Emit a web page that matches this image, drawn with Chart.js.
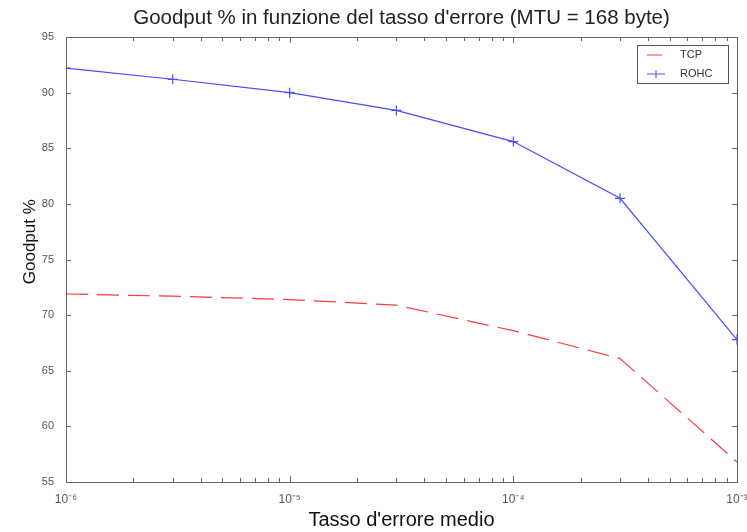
<!DOCTYPE html>
<html>
<head>
<meta charset="utf-8">
<script src="https://cdn.jsdelivr.net/npm/chart.js@4.4.1/dist/chart.umd.min.js"></script>
<style>
    body { margin: 0; background: #fff; }
    #wrap { width: 747px; height: 532px; position: relative; }
</style>
</head>
<body>
<div id="wrap"><canvas id="goodputChart"></canvas></div>
<script>
// Tasso d'errore (asse log) e goodput misurato per i due protocolli
const errorRates = [1e-6, 3e-6, 1e-5, 3e-5, 1e-4, 3e-4, 1e-3];
const tcpGoodput = [71.9, 71.7, 71.4, 70.9, 68.6, 66.1, 56.8];
const rohcGoodput = [92.2, 91.2, 90.0, 88.4, 85.6, 80.5, 67.8];
const seriesNames = ['TCP', 'ROHC'];
const seriesColors = ['#ff3a3a', '#4a4aff'];
const decades = [-6, -5, -4, -3];
const yMin = 55, yMax = 95, yStep = 5;
const chartTitle = "Goodput % in funzione del tasso d'errore (MTU = 168 byte)";
const yTitle = 'Goodput %';

const FONT = '"Liberation Sans", Arial, sans-serif';
const SUP = { '-': '\u207B', '0': '\u2070', '1': '\u00B9', '2': '\u00B2', '3': '\u00B3',
              '4': '\u2074', '5': '\u2075', '6': '\u2076', '7': '\u2077', '8': '\u2078', '9': '\u2079' };

function powLabel(exp) {
    return '10' + String(exp).split('').map(c => SUP[c]).join('');
}

// tacche log: 1..9 x 10^k per ogni decade, piu' l'ultima potenza
function logTicks() {
    const out = [];
    for (let i = 0; i < decades.length - 1; i++) {
        for (let m = 1; m <= 9; m++) out.push({ value: m * Math.pow(10, decades[i]), major: m === 1 });
    }
    out.push({ value: Math.pow(10, decades[decades.length - 1]), major: true });
    return out;
}

// cornice e tacche verso l'interno, stile matlab
const frameTicks = {
    id: 'frameTicks',
    afterDatasetsDraw(chart) {
        const { ctx, chartArea: a, scales } = chart;
        ctx.save();
        ctx.strokeStyle = '#666';
        ctx.lineWidth = 1;
        ctx.strokeRect(Math.round(a.left) + 0.5, Math.round(a.top) + 0.5,
                       Math.round(a.right - a.left), Math.round(a.bottom - a.top));
        ctx.beginPath();
        scales.x.ticks.forEach(t => {
            const x = Math.round(scales.x.getPixelForValue(t.value)) + 0.5;
            const len = t.major ? 6 : 4;
            ctx.moveTo(x, a.bottom); ctx.lineTo(x, a.bottom - len);
            ctx.moveTo(x, a.top); ctx.lineTo(x, a.top + len);
        });
        scales.y.ticks.forEach(t => {
            const y = Math.round(scales.y.getPixelForValue(t.value)) + 0.5;
            ctx.moveTo(a.left, y); ctx.lineTo(a.left + 5, y);
            ctx.moveTo(a.right, y); ctx.lineTo(a.right - 5, y);
        });
        ctx.stroke();
        ctx.restore();
    },
    afterDraw(chart) {
        const { ctx, chartArea: a } = chart;
        const cx = (a.left + a.right) / 2;

        // titolo centrato sugli assi, non sulla figura
        ctx.save();
        ctx.font = '20.5px ' + FONT;
        ctx.fillStyle = '#222';
        ctx.textAlign = 'center';
        ctx.textBaseline = 'middle';
        ctx.fillText(chartTitle, cx, 18);
        ctx.restore();

        // etichetta asse y, un po' sopra il centro come in matlab
        ctx.save();
        ctx.translate(30, a.top + (a.bottom - a.top) * 0.46);
        ctx.rotate(-Math.PI / 2);
        ctx.font = '17px ' + FONT;
        ctx.fillStyle = '#111';
        ctx.textAlign = 'center';
        ctx.textBaseline = 'middle';
        ctx.fillText(yTitle, 0, 0);
        ctx.restore();

        // legenda in alto a destra dentro il grafico
        const bx = a.right - 100, by = a.top + 8, bw = 91, bh = 38;
        ctx.save();
        ctx.fillStyle = '#fff';
        ctx.fillRect(bx, by, bw, bh);
        ctx.strokeStyle = '#555';
        ctx.lineWidth = 1;
        ctx.strokeRect(bx + 0.5, by + 0.5, bw, bh);
        ctx.font = '11px ' + FONT;
        ctx.textBaseline = 'middle';
        seriesNames.forEach((name, i) => {
            const y = by + 10 + i * 19;
            ctx.strokeStyle = seriesColors[i];
            ctx.beginPath();
            ctx.moveTo(bx + 10, y); ctx.lineTo(bx + (i === 0 ? 25 : 28), y);
            if (i === 1) { ctx.moveTo(bx + 19, y - 4); ctx.lineTo(bx + 19, y + 4); }
            ctx.stroke();
            ctx.fillStyle = '#333';
            ctx.fillText(name, bx + 43, y);
        });
        ctx.restore();
    }
};

const ctx = document.getElementById('goodputChart').getContext('2d');
new Chart(ctx, {
    type: 'line',
    data: {
        datasets: [
            {
                label: seriesNames[0],
                data: errorRates.map((x, i) => ({ x: x, y: tcpGoodput[i] })),
                borderColor: seriesColors[0],
                borderWidth: 1.2,
                borderDash: [22, 9],
                pointRadius: 0,
                tension: 0
            },
            {
                label: seriesNames[1],
                data: errorRates.map((x, i) => ({ x: x, y: rohcGoodput[i] })),
                borderColor: seriesColors[1],
                backgroundColor: seriesColors[1],
                borderWidth: 1.2,
                pointStyle: 'cross',
                pointRadius: 5,
                pointBorderWidth: 1.2,
                tension: 0
            }
        ]
    },
    options: {
        responsive: true,
        maintainAspectRatio: false,
        animation: false,
        layout: { padding: { top: 37, right: 10, bottom: 0 } },
        plugins: {
            legend: { display: false },
            tooltip: { enabled: false },
            title: { display: false }
        },
        scales: {
            x: {
                type: 'logarithmic',
                min: Math.pow(10, decades[0]),
                max: Math.pow(10, decades[decades.length - 1]),
                grid: { display: false },
                border: { display: false },
                afterBuildTicks: scale => { scale.ticks = logTicks(); },
                afterFit: scale => {
                    scale.height = 50;
                    scale.paddingLeft = 0;
                    scale.paddingRight = 0;
                },
                ticks: {
                    autoSkip: false,
                    maxRotation: 0,
                    padding: 2,
                    color: '#555',
                    font: { family: FONT, size: 12 },
                    callback: function (v) {
                        const e = Math.log10(v);
                        return Math.abs(e - Math.round(e)) < 1e-9 ? powLabel(Math.round(e)) : '';
                    }
                },
                title: {
                    display: true,
                    text: "Tasso d'errore medio",
                    color: '#111',
                    font: { family: FONT, size: 20 },
                    padding: { top: 1, bottom: 0 }
                }
            },
            y: {
                min: yMin,
                max: yMax,
                grid: { display: false },
                border: { display: false },
                afterFit: scale => { scale.width = 66; },
                ticks: {
                    stepSize: yStep,
                    padding: 4,
                    color: '#555',
                    font: { family: FONT, size: 11 }
                }
            }
        }
    },
    plugins: [frameTicks]
});
</script>
</body>
</html>
